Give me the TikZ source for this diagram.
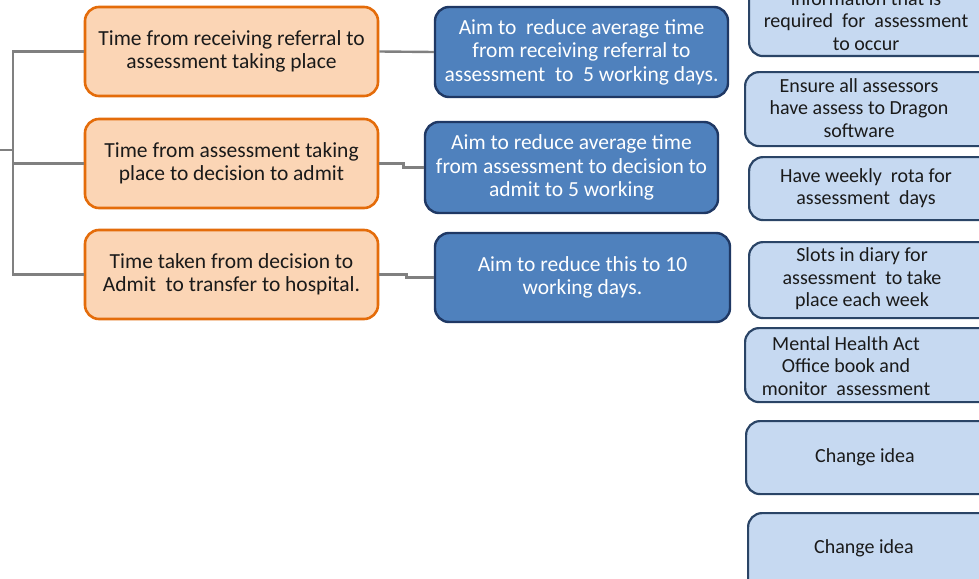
\documentclass[tikz,border=0pt]{standalone}
\usepackage{fontspec}
\setmainfont{Carlito}
\definecolor{orfill}{HTML}{FBD5B5}
\definecolor{ordraw}{HTML}{E46C0A}
\definecolor{bfill}{HTML}{4F81BD}
\definecolor{bdraw}{HTML}{1F3864}
\definecolor{lbfill}{HTML}{C6D9F1}
\definecolor{lbdraw}{HTML}{2A4466}
\definecolor{conn}{HTML}{808080}
\definecolor{txt}{HTML}{1A1A1A}
\tikzset{
  base/.style={rounded corners=14pt, align=center, inner sep=0pt, font=\fontsize{21.5}{23.5}\selectfont},
  orbox/.style={base, fill=orfill, draw=ordraw, line width=2.6pt, text=txt, minimum width=293pt, minimum height=89pt},
  bbox/.style={base, fill=bfill, draw=bdraw, line width=2.4pt, text=white, minimum width=293pt, minimum height=90pt},
  lbbox/.style={rounded corners=14pt, inner sep=0pt, fill=lbfill, draw=lbdraw, line width=2.2pt, minimum width=260pt, anchor=north west},
  lbtext/.style={align=center, inner sep=0pt, text=txt, font=\fontsize{20}{22.5}\selectfont},
  cn/.style={draw=conn, line width=2.4pt}
}
\begin{document}
\begin{tikzpicture}[x=1pt,y=-1pt]
\useasboundingbox (0,0) rectangle (979,578);
\clip (0,0) rectangle (979,578);
% orange boxes
\node[orbox] (o1) at (231.5,51.5) {Time from receiving referral to\\assessment taking place};
\node[orbox] (o2) at (231.5,163.5) {Time from assessment taking\\place to decision to admit};
\node[orbox] (o3) at (231.5,274.5) {Time taken from decision to\\Admit \ to transfer to hospital.};
% blue boxes
\node[bbox] (b1) at (581.5,52) {Aim to \ reduce average time\\from receiving referral to\\assessment \ to \ 5 working days.};
\node[bbox, minimum height=91pt] (b2) at (571.5,167.5) {Aim to reduce average time\\from assessment to decision to\\admit to 5 working};
\node[bbox, minimum width=295pt, minimum height=89pt] (b3) at (582.5,277.5) {Aim to reduce this to 10\\working days.};
% light blue boxes
\node[lbbox, minimum height=100pt] (l1) at (748,-45) {};
\node[lbtext] (l1t) at (866,21) {information that is\\required \ for \ assessment\\to occur};
\node[lbbox, minimum height=74pt] (l2) at (744,71) {};
\node[lbtext] (l2t) at (859,108) {Ensure all assessors\\have assess to Dragon\\software};
\node[lbbox, minimum height=63pt] (l3) at (748,156) {};
\node[lbtext] (l3t) at (866,188) {Have weekly \ rota for\\assessment \ days};
\node[lbbox, minimum height=76pt] (l4) at (748,241) {};
\node[lbtext] (l4t) at (862,279) {Slots in diary for\\assessment \ to take\\place each week};
\node[lbbox, minimum height=74pt] (l5) at (744,327) {};
\node[lbtext] (l5t) at (846,366) {Mental Health Act\\Office book and\\monitor \ assessment};
\node[lbbox, minimum height=73pt] (l6) at (745,420) {};
\node[lbtext] (l6t) at (865,457) {Change idea};
\node[lbbox, minimum height=90pt] (l7) at (747,512) {};
\node[lbtext] (l7t) at (864,548) {Change idea};
% connectors
\coordinate (root) at (0,150);
\coordinate (trunk) at (13,150);
\draw[cn] (root) -- (trunk);
\draw[cn] (o1.west) -| (trunk) |- (o3.west);
\draw[cn] (trunk) |- (o2.west);
\draw[cn] (o1.east) -- (b1.west);
\draw[cn] (o2.east) -- ++(24,0) |- (b2.west);
\draw[cn] (o3.east) -- ++(27,0) |- (b3.west);
\end{tikzpicture}
\end{document}
